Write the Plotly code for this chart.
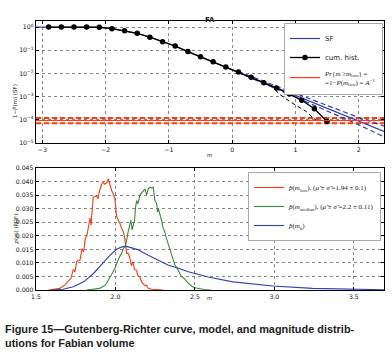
import numpy as np
import plotly.graph_objects as go

# ---------------- data: top panel (Gutenberg-Richter) ----------------
hist_m = [-2.9, -2.7, -2.5, -2.3, -2.1, -1.9, -1.7, -1.5, -1.3, -1.1, -0.9, -0.7,
          -0.5, -0.3, -0.1, 0.1, 0.3, 0.5, 0.7, 0.9, 1.1, 1.3, 1.5]
hist_log_sf = [0.0, 0.0, 0.0, 0.0, -0.01, -0.07, -0.16, -0.27, -0.44, -0.64, -0.82, -1.06,
               -1.28, -1.50, -1.72, -1.94, -2.17, -2.40, -2.63, -2.88, -3.16, -3.52, -4.07]

sf_m = [-3.1, -2.1, -1.9, -1.7, -1.5, -1.3, -1.1, -0.9, -0.7, -0.5, -0.3, -0.1, 2.4]
sf_log = [0.0, -0.01, -0.07, -0.16, -0.27, -0.44, -0.64, -0.82, -1.06, -1.28, -1.50, -1.72, -4.50]

band_m = [0.1, 0.5, 1.0, 1.5, 2.0, 2.4]
band_up_log = [-1.92, -2.34, -2.86, -3.38, -3.90, -4.27]
band_lo_log = [-1.96, -2.44, -3.02, -3.62, -4.21, -4.74]

hist_lo_m = [0.6, 0.76, 0.91, 1.04, 1.17, 1.28, 1.33, 1.5]
hist_lo_log = [-2.5, -2.92, -3.21, -3.42, -3.64, -3.92, -4.0, -4.05]

pr_low_log = -4.03
pr_low_band_log = [-3.92, -4.15]
m_span = [-3.1, 2.4]

top_ytick_vals = [1, 0.1, 0.01, 0.001, 0.0001, 0.00001]
top_ytick_text = ["10<sup>0</sup>", "10<sup>−1</sup>", "10<sup>−2</sup>",
                  "10<sup>−3</sup>", "10<sup>−4</sup>", "10<sup>−5</sup>"]
top_xticks = [-3, -2, -1, 0, 1, 2]

# ---------------- data: bottom panel (PDFs) ----------------
low_m = [1.58, 1.62, 1.65, 1.68, 1.69, 1.70, 1.72, 1.735, 1.745, 1.756, 1.765, 1.777,
         1.79, 1.80, 1.81, 1.82, 1.83, 1.84, 1.846, 1.86, 1.87, 1.88, 1.89, 1.90, 1.913,
         1.923, 1.934, 1.944, 1.955, 1.965, 1.976, 1.986, 1.997, 2.007, 2.018, 2.028,
         2.039, 2.05, 2.06, 2.07, 2.08, 2.09, 2.10, 2.11, 2.12, 2.133, 2.14, 2.153,
         2.165, 2.186, 2.196, 2.206, 2.228, 2.26, 2.30]
low_p = [0.0, 0.0002, 0.0006, 0.0018, 0.0025, 0.003, 0.0043, 0.0076, 0.0067, 0.0104,
         0.011, 0.011, 0.0153, 0.014, 0.019, 0.020, 0.024, 0.0265, 0.0239, 0.0342, 0.0345,
         0.0348, 0.0337, 0.0367, 0.039, 0.0397, 0.039, 0.0395, 0.041, 0.0386, 0.0367,
         0.0355, 0.0335, 0.0272, 0.026, 0.0245, 0.0228, 0.0215, 0.0185, 0.0135, 0.0135,
         0.0120, 0.0090, 0.0104, 0.0075, 0.0073, 0.0055, 0.0049, 0.0030, 0.0015, 0.0018,
         0.0006, 0.0003, 0.0001, 0.0]

med_m = [1.82, 1.86, 1.90, 1.92, 1.935, 1.944, 1.955, 1.965, 1.976, 1.986, 1.997, 2.007,
         2.018, 2.028, 2.039, 2.05, 2.064, 2.08, 2.09, 2.097, 2.105, 2.112, 2.12, 2.127,
         2.133, 2.14, 2.147, 2.153, 2.165, 2.175, 2.186, 2.196, 2.206, 2.217, 2.228,
         2.238, 2.248, 2.259, 2.265, 2.27, 2.28, 2.29, 2.30, 2.31, 2.32, 2.33, 2.343,
         2.353, 2.364, 2.374, 2.385, 2.395, 2.406, 2.416, 2.437, 2.458, 2.48, 2.50, 2.53,
         2.56, 2.60]
med_p = [0.0, 0.0003, 0.0006, 0.0012, 0.0018, 0.0025, 0.0035, 0.0049, 0.0055, 0.0068,
         0.008, 0.0098, 0.0112, 0.0125, 0.0135, 0.0153, 0.0165, 0.0215, 0.0240, 0.0257,
         0.0222, 0.0240, 0.0257, 0.0306, 0.033, 0.0318, 0.0330, 0.0350, 0.0358, 0.0367,
         0.0373, 0.0350, 0.0373, 0.0379, 0.0376, 0.0379, 0.0330, 0.0320, 0.0287, 0.0300,
         0.0280, 0.0257, 0.0228, 0.0215, 0.0192, 0.0175, 0.0150, 0.0128, 0.0114, 0.0092,
         0.0084, 0.0070, 0.0060, 0.0050, 0.0040, 0.0025, 0.0014, 0.0008, 0.0004, 0.0002,
         0.0]

k_m = [1.60, 1.67, 1.735, 1.80, 1.86, 1.92, 1.965, 2.007, 2.04, 2.07, 2.10, 2.14, 2.206,
       2.27, 2.33, 2.395, 2.458, 2.52, 2.59, 2.74, 2.99, 3.24, 3.47, 3.69]
k_p = [0.0, 0.0003, 0.0012, 0.0030, 0.0060, 0.0100, 0.0128, 0.0150, 0.0159, 0.0161,
       0.0157, 0.0149, 0.0128, 0.0108, 0.0092, 0.0080, 0.0067, 0.0058, 0.0047, 0.0030,
       0.0015, 0.0006, 0.0003, 0.0001]

bottom_xticks = [1.5, 2.0, 2.5, 3.0, 3.5]

# ---------------- labels ----------------
SERIF = "font-family:'Liberation Serif','DejaVu Serif',serif"
legend_top = ["SF", "cum. hist.",
              f"<span style=\"{SERIF}\"><i>Pr</i>{{<i>m</i> ≥<i>m</i><sub>low</sub>}} =<br>"
              f"=1−<i>P</i>(<i>m</i><sub>low</sub>) = <i>A</i><sup>−1</sup></span>"]
legend_bottom = [
    f"<span style=\"{SERIF}\"><i>p̂</i>(<i>m</i><sub>low</sub>), (<i>μ̂</i> ± <i>σ̂</i> =1.94 ± 0.1)</span>",
    f"<span style=\"{SERIF}\"><i>p̂</i>(<i>m</i><sub>median</sub>), (<i>μ̂</i> ± <i>σ̂</i> =2.2 ± 0.11)</span>",
    f"<span style=\"{SERIF}\"><i>p̂</i>(<i>m</i><sub>k</sub>)</span>",
]
panel_title = "FA"
caption = ("<b>Figure 15—Gutenberg-Richter curve, model, and magnitude distrib-<br>"
           "utions for Fabian volume</b>")

# ---------------- colours ----------------
BLUE = "#3340b0"
RED = "#ff3a10"
LIGHTRED = "#ffb090"
GREEN = "#3b8a3b"

W, H = 392, 360
def px_x(p):
    return p / W
def px_y(p):
    return 1 - p / H

fig = go.Figure()
P = lambda a: (10 ** np.array(a)).tolist()

# --- top panel ---
for lv in pr_low_band_log + [pr_low_log]:
    fig.add_trace(go.Scatter(x=m_span, y=P([lv, lv]), mode="lines", xaxis="x", yaxis="y",
                             line=dict(color=LIGHTRED, width=1), showlegend=False,
                             hoverinfo="skip"))
for lv in pr_low_band_log:
    fig.add_trace(go.Scatter(x=m_span, y=P([lv, lv]), mode="lines", xaxis="x", yaxis="y",
                             line=dict(color=RED, width=2, dash="5px,3px"), showlegend=False,
                             hoverinfo="skip"))

fig.add_trace(go.Scatter(x=band_m, y=P(band_up_log), mode="lines", xaxis="x", yaxis="y",
                         line=dict(color=BLUE, width=1.2, dash="5px,3px"), showlegend=False))
fig.add_trace(go.Scatter(x=band_m, y=P(band_lo_log), mode="lines", xaxis="x", yaxis="y",
                         line=dict(color=BLUE, width=1.2, dash="5px,3px"), showlegend=False))
fig.add_trace(go.Scatter(x=sf_m, y=P(sf_log), mode="lines", xaxis="x", yaxis="y",
                         name=legend_top[0], legend="legend",
                         line=dict(color=BLUE, width=1.2)))
fig.add_trace(go.Scatter(x=hist_lo_m, y=P(hist_lo_log), mode="lines", xaxis="x", yaxis="y",
                         line=dict(color="black", width=1, dash="4px,3px"), showlegend=False))
fig.add_trace(go.Scatter(x=hist_m, y=P(hist_log_sf), mode="lines+markers", xaxis="x", yaxis="y",
                         name=legend_top[1], legend="legend",
                         line=dict(color="black", width=1.3),
                         marker=dict(color="black", size=5.5)))
fig.add_trace(go.Scatter(x=m_span, y=P([pr_low_log, pr_low_log]), mode="lines", xaxis="x",
                         yaxis="y", name=legend_top[2], legend="legend",
                         line=dict(color=RED, width=1.2)))

# --- bottom panel ---
fig.add_trace(go.Scatter(x=low_m, y=low_p, mode="lines", xaxis="x2", yaxis="y2",
                         name=legend_bottom[0], legend="legend2",
                         line=dict(color=RED, width=1.1)))
fig.add_trace(go.Scatter(x=med_m, y=med_p, mode="lines", xaxis="x2", yaxis="y2",
                         name=legend_bottom[1], legend="legend2",
                         line=dict(color=GREEN, width=1.1)))
fig.add_trace(go.Scatter(x=k_m, y=k_p, mode="lines", xaxis="x2", yaxis="y2",
                         name=legend_bottom[2], legend="legend2",
                         line=dict(color=BLUE, width=1.1)))

TICKFONT = dict(family="DejaVu Sans", size=6.2, color="#111")
axcommon = dict(showline=True, linecolor="black", linewidth=1.3, mirror="allticks",
                ticks="inside", ticklen=3, tickcolor="black", showgrid=True,
                gridcolor="#888", griddash="dot", gridwidth=1, zeroline=False,
                tickfont=TICKFONT, automargin=False)

fig.update_layout(
    width=W, height=H, margin=dict(l=0, r=0, t=0, b=0, autoexpand=False),
    paper_bgcolor="white", plot_bgcolor="white",
    xaxis=dict(domain=[px_x(36), px_x(384)], range=[-3.1, 2.4], tickvals=top_xticks,
               anchor="y", **axcommon),
    yaxis=dict(domain=[px_y(143), px_y(21)], type="log", range=[-5, 0.26],
               tickvals=top_ytick_vals, ticktext=top_ytick_text, anchor="x", **axcommon),
    xaxis2=dict(domain=[px_x(36), px_x(384)], range=[1.5, 3.69], tickvals=bottom_xticks,
                tickformat=".1f", anchor="y2", **axcommon),
    yaxis2=dict(domain=[px_y(290), px_y(168)], range=[0, 0.045], dtick=0.005,
                tickformat=".3f", anchor="x2", **axcommon),
    legend=dict(x=px_x(383), y=px_y(23), xanchor="right", yanchor="top",
                bgcolor="white", bordercolor="#aaa", borderwidth=1,
                font=dict(family="DejaVu Sans", size=7, color="#222"),
                tracegroupgap=0, itemwidth=30),
    legend2=dict(x=px_x(381), y=px_y(172), xanchor="right", yanchor="top",
                 bgcolor="white", bordercolor="#aaa", borderwidth=1,
                 font=dict(family="DejaVu Sans", size=7, color="#222"),
                 tracegroupgap=0, itemwidth=30),
    annotations=[
        dict(text=f"<b>{panel_title}</b>", x=px_x(210), y=px_y(14), xref="paper", yref="paper",
             showarrow=False, font=dict(family="DejaVu Sans", size=7, color="#222")),
        dict(text="1−<i>P</i>(m) (SF)", x=px_x(10), y=px_y(82), xref="paper", yref="paper",
             textangle=-90, showarrow=False, font=dict(family="DejaVu Sans", size=5.5, color="#222")),
        dict(text="<i>p</i>(m) (PDF)", x=px_x(10), y=px_y(229), xref="paper", yref="paper",
             textangle=-90, showarrow=False, font=dict(family="DejaVu Sans", size=5.5, color="#222")),
        dict(text="m", x=px_x(209), y=px_y(155), xref="paper", yref="paper",
             showarrow=False, font=dict(family="DejaVu Sans", size=5.5, color="#222")),
        dict(text="m", x=px_x(209), y=px_y(303), xref="paper", yref="paper",
             showarrow=False, font=dict(family="DejaVu Sans", size=5.5, color="#222")),
        dict(text=caption, x=px_x(3), y=px_y(321), xref="paper", yref="paper",
             xanchor="left", yanchor="top", align="left", showarrow=False,
             font=dict(family="Liberation Sans, Arial", size=10.9, color="#222")),
    ],
)

fig.write_html("out.html", config={"displayModeBar": False, "staticPlot": True},
               post_script="document.body.style.margin='0';document.body.style.overflow='hidden';")
